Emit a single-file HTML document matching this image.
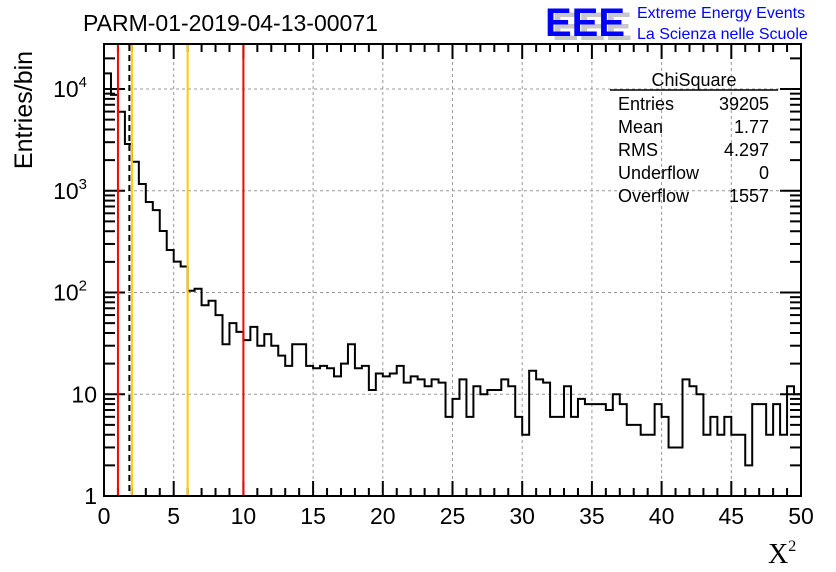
<!DOCTYPE html>
<html><head><meta charset="utf-8"><style>
body{margin:0;background:#fff}
svg{display:block;font-family:"Liberation Sans",sans-serif}
</style></head><body>
<svg id="c" width="836" height="572" viewBox="0 0 836 572">
<rect width="836" height="572" fill="#fff"/>
<text x="83" y="31" font-size="23">PARM-01-2019-04-13-00071</text>
<g>
<text x="552" y="40" font-size="40" font-weight="bold" fill="#c8c8c8" textLength="80" lengthAdjust="spacingAndGlyphs">EEE</text>
<text x="545" y="36" font-size="40" font-weight="bold" fill="#0000ff" textLength="80" lengthAdjust="spacingAndGlyphs">EEE</text>
<text x="637" y="18" font-size="16" fill="#0000ff">Extreme Energy Events</text>
<text x="637" y="39" font-size="16" fill="#0000ff">La Scienza nelle Scuole</text>
</g>
<g id="grid"></g>
<g id="marks"></g>
<g id="axes"></g>
<g id="cuts"></g>
<g font-size="18">
<text x="694" y="86" text-anchor="middle">ChiSquare</text>
<line x1="610" y1="90" x2="778" y2="90" stroke="#000" stroke-width="1.5"/>
<text x="618" y="110">Entries</text><text x="769" y="110" text-anchor="end">39205</text>
<text x="618" y="133">Mean</text><text x="769" y="133" text-anchor="end">1.77</text>
<text x="618" y="156">RMS</text><text x="769" y="156" text-anchor="end">4.297</text>
<text x="618" y="179">Underflow</text><text x="769" y="179" text-anchor="end">0</text>
<text x="618" y="202">Overflow</text><text x="769" y="202" text-anchor="end">1557</text>
</g>
<text transform="translate(32,110) rotate(-90)" font-size="25" text-anchor="middle">Entries/bin</text>
<text x="768" y="563" font-size="28" font-family="Liberation Serif,serif">X<tspan font-size="16" dy="-12">2</tspan></text>
</svg>
<script>
const binWidth = 0.5;
const counts = [14260,8750,5980,2880,1930,1164,775,645,402,262,201,180,104,109,75,83,60,31,50,41,34,46,30,39,30,24,19,31,
31,19,18,19,18,15,20,31,18,19,11,16,15,16,19,13,15,14,12,14,13,6,9,14,6,12,10,11,11,14,12,6,4,17,14,13,
6,6,12,6,9,8,8,8,7,10,8,5,5,4,4,8,6,3,3,14,12,10,4,6,4,6,4,4,2,8,8,4,8,4,12,10];
const xTicks = [0,5,10,15,20,25,30,35,40,45,50];
const yDecades = [0,1,2,3,4];
const yLabels = ["1","10","10","10","10"];
const yExp = ["","","2","3","4"];
const vLines = [{x:1,c:"#ff0000",d:""},{x:1.82,c:"#000",d:"6,4"},{x:2,c:"#ffcc00",d:""},{x:6,c:"#ffcc00",d:""},{x:10,c:"#ff0000",d:""}];
const X0=104,X1=801,Y0=496,YT=44,DEC=101.75;
const sx=v=>X0+(v/50)*(X1-X0);
const sy=v=>Y0-Math.log10(v)*DEC;
const NS="http://www.w3.org/2000/svg";
function mk(t,a,p){const e=document.createElementNS(NS,t);for(const k in a)e.setAttribute(k,a[k]);p.appendChild(e);return e;}
const grid=document.getElementById('grid'),marks=document.getElementById('marks'),axes=document.getElementById('axes'),cuts=document.getElementById('cuts');
xTicks.slice(1,-1).forEach(t=>{const l=mk('line',{x1:sx(t),x2:sx(t),y1:YT,y2:Y0,stroke:'#999','stroke-dasharray':'3,3'},grid);

});
yDecades.slice(1).forEach(d=>{const y=Y0-d*DEC;const l=mk('line',{x1:X0,x2:X1,y1:y,y2:y,stroke:'#999','stroke-dasharray':'3,3'},grid);

});
let p=`M${sx(0)},${Y0}`;
counts.forEach((c,i)=>{if((i+1)*binWidth>50)return;const y=Math.max(YT,sy(c));p+=` V${y} H${sx((i+1)*binWidth)}`;});
p+=` V${Y0}`;
const h=mk('path',{d:p,fill:'none',stroke:'#000','stroke-width':2},marks);


const fr=mk('rect',{x:X0,y:YT,width:X1-X0,height:Y0-YT,fill:'none',stroke:'#000','stroke-width':2},axes);


for(let t=0;t<=50;t+=1){const big=t%5===0;const L=big?15:8;
mk('line',{x1:sx(t),x2:sx(t),y1:Y0,y2:Y0-L,stroke:'#000','stroke-width':2},axes);
mk('line',{x1:sx(t),x2:sx(t),y1:YT,y2:YT+L,stroke:'#000','stroke-width':2},axes);}
xTicks.forEach(t=>{const e=mk('text',{x:sx(t),y:Y0+28,'font-size':23,'text-anchor':'middle'},axes);e.textContent=t;

});
for(let d=0;d<5;d++){for(let m=1;m<10;m++){const y=sy(Math.pow(10,d)*m);if(y<YT)break;const L=m===1?21:11;
mk('line',{x1:X0,x2:X0+L,y1:y,y2:y,stroke:'#000','stroke-width':2},axes);
mk('line',{x1:X1,x2:X1-L,y1:y,y2:y,stroke:'#000','stroke-width':2},axes);}}
yDecades.forEach((d,i)=>{const y=Y0-d*DEC;const e=mk('text',{x:yExp[i]?87:97,y:y+8,'font-size':23,'text-anchor':'end'},axes);e.textContent=yLabels[i];
if(yExp[i]){const s=mk('tspan',{'font-size':15,dy:-10},e);s.textContent=yExp[i];}

});
vLines.forEach(v=>{const l=mk('line',{x1:sx(v.x),x2:sx(v.x),y1:YT+1,y2:Y0-1,stroke:v.c,'stroke-width':2,'stroke-dasharray':v.d},cuts);

});
</script>
</body></html>
